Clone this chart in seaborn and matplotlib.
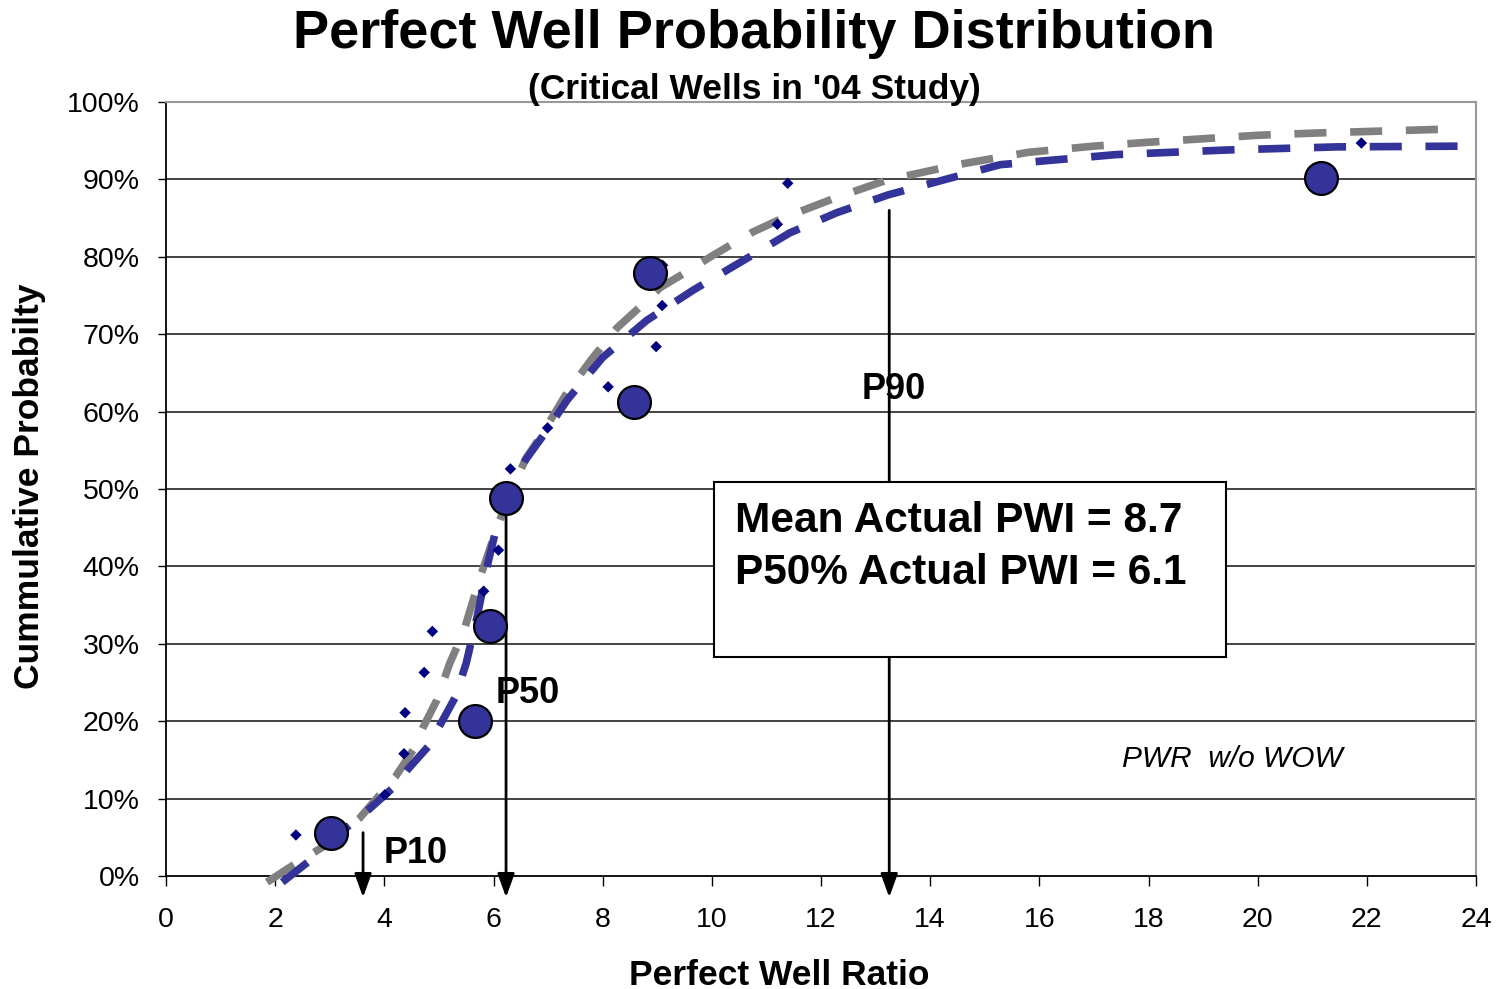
import matplotlib
matplotlib.use("Agg")
import matplotlib.pyplot as plt
import seaborn as sns
import pandas as pd
from matplotlib.patches import Rectangle

# ---------------- data ----------------
# Gray dashed fitted curve
gray_x = [1.85, 2.33, 3.0, 3.55, 3.88, 4.2, 4.53, 4.71, 4.96, 5.2, 5.45, 5.75, 6.03,
          6.3, 6.6, 6.9, 7.35, 7.8, 8.26, 8.68, 9.05, 9.5, 10.0, 10.75, 11.3, 12.26,
          13.2, 14.5, 15.8, 17.0, 18.0, 20.0, 21.1, 23.5]
gray_y = [-0.8, 1.4, 4.3, 7.5, 10.2, 12.8, 16.3, 19.2, 22.7, 27.5, 31.5, 38.5, 44.3,
          49.5, 54.0, 57.2, 62.5, 66.8, 70.8, 73.5, 76.0, 77.9, 80.1, 83.2, 85.0, 87.6,
          89.9, 91.9, 93.5, 94.3, 94.8, 95.7, 96.0, 96.5]

# Navy dashed fitted curve
navy_x = [2.13, 2.6, 3.0, 3.7, 4.16, 4.42, 4.8, 5.02, 5.3, 5.5, 5.7, 5.9, 6.03, 6.3,
          6.58, 6.94, 7.35, 8.0, 8.81, 9.66, 10.5, 11.43, 12.29, 13.23, 15.28, 17.4,
          19.44, 21.45, 23.8]
navy_y = [-0.8, 1.8, 4.5, 8.5, 11.4, 13.7, 16.7, 19.5, 23.1, 27.5, 33.5, 40.5, 44.3,
          49.5, 53.7, 57.2, 61.5, 67.0, 71.8, 75.7, 79.2, 83.1, 85.7, 88.0, 91.9, 93.2,
          93.8, 94.2, 94.3]

# Small navy diamond points
dot_x = [2.38, 4.01, 4.36, 4.38, 4.73, 4.88, 5.82, 6.09, 6.2, 6.31, 6.99, 8.1, 8.98,
         9.09, 9.1, 11.2, 11.39, 21.9]
dot_y = [5.3, 10.5, 15.8, 21.1, 26.3, 31.6, 36.8, 42.1, 47.4, 52.6, 57.9, 63.2, 68.4,
         73.7, 78.9, 84.2, 89.5, 94.7]

# Critical wells (large circles)
well_x = [3.02, 5.66, 5.94, 6.23, 8.57, 8.87, 21.16]
well_y = [5.6, 20.0, 32.3, 48.8, 61.2, 77.9, 90.2]

# Percentile markers
p_labels = ["P10", "P50", "P90"]
p_x = [3.61, 6.23, 13.25]
p_start = [5.6, 48.8, 86.0]

x_ticks = list(range(0, 25, 2))
y_ticks = list(range(0, 101, 10))
y_tick_labels = [f"{v}%" for v in y_ticks]

# ---------------- styling ----------------
sns.set_theme(style="white")
plt.rcParams["font.family"] = ["Liberation Sans", "DejaVu Sans"]
plt.rcParams["text.color"] = "black"
plt.rcParams["axes.labelcolor"] = "black"
plt.rcParams["xtick.color"] = "black"
plt.rcParams["ytick.color"] = "black"

NAVY = "#333399"
GRAY = "#808080"
DOT = "#000080"

fig = plt.figure(figsize=(14.99, 9.89), dpi=100)
ax = fig.add_axes([166 / 1499, 1 - 876 / 989, 1310 / 1499, 774 / 989])

ax.set_xlim(0, 24)
ax.set_ylim(0, 100)

# grid lines
for v in y_ticks[1:-1]:
    ax.axhline(v, color="#111111", lw=1.1, zorder=1)

dash = (0, (4.2, 3.1))
sns.lineplot(x=gray_x, y=gray_y, ax=ax, color=GRAY, linewidth=5.5, sort=False,
             estimator=None, zorder=3)
sns.lineplot(x=navy_x, y=navy_y, ax=ax, color=NAVY, linewidth=5.5, sort=False,
             estimator=None, zorder=3)
for ln in ax.get_lines()[-2:]:
    ln.set_linestyle(dash)
    ln.set_dash_capstyle("butt")
    ln.set_clip_on(False)

sns.scatterplot(x=dot_x, y=dot_y, ax=ax, marker="D", s=34, color=DOT,
                edgecolor="none", zorder=4)
sns.scatterplot(x=well_x, y=well_y, ax=ax, marker="o", s=560, color=NAVY,
                edgecolor="black", linewidth=1.6, zorder=6)

# percentile arrows
for lab, xv, y0 in zip(p_labels, p_x, p_start):
    ax.annotate("", xy=(xv, -2.75), xytext=(xv, y0),
                arrowprops=dict(arrowstyle="-|>,head_length=0.55,head_width=0.2",
                                color="black", lw=2.0, mutation_scale=26,
                                shrinkA=0, shrinkB=0),
                annotation_clip=False, zorder=5)

ax.text(3.98, 2.9, "P10", fontsize=26, fontweight="bold", va="center", ha="left", zorder=7)
ax.text(6.03, 23.6, "P50", fontsize=26, fontweight="bold", va="center", ha="left", zorder=7)
ax.text(12.75, 62.9, "P90", fontsize=26, fontweight="bold", va="center", ha="left", zorder=4)

# annotation box
ax.add_patch(Rectangle((10.04, 28.3), 9.38, 22.6, facecolor="white",
                       edgecolor="black", lw=1.5, zorder=8))
ax.text(10.42, 45.9, "Mean Actual PWI = 8.7", fontsize=30.5, fontweight="bold",
        va="center", ha="left", zorder=9)
ax.text(10.42, 39.1, "P50% Actual PWI = 6.1", fontsize=30.5, fontweight="bold",
        va="center", ha="left", zorder=9)

ax.text(17.52, 15.1, "PWR  w/o WOW", fontsize=21.5, fontstyle="italic",
        va="center", ha="left", zorder=7)

# axes, ticks
ax.set_xticks(x_ticks)
ax.set_xticklabels([str(t) for t in x_ticks], fontsize=20.5)
ax.set_yticks(y_ticks)
ax.set_yticklabels(y_tick_labels, fontsize=20.5)
ax.tick_params(axis="x", direction="out", length=7, width=1.0, color="black",
               bottom=True, pad=15)
ax.tick_params(axis="y", direction="out", length=6, width=1.0, color="black",
               left=True, pad=13)

for s in ["left", "bottom"]:
    ax.spines[s].set_color("black")
    ax.spines[s].set_linewidth(1.3)
for s in ["top", "right"]:
    ax.spines[s].set_color("#999999")
    ax.spines[s].set_linewidth(1.5)

ax.set_xlabel("Perfect Well Ratio", fontsize=25.5, fontweight="bold")
ax.xaxis.label.set_va("center")
ax.xaxis.set_label_coords(0.468, -0.128)
ax.set_ylabel("Cummulative Probabilty", fontsize=25.5, fontweight="bold")
ax.yaxis.label.set_va("center")
ax.yaxis.set_label_coords(-0.104, 0.503)

fig.text(754 / 1499, 1 - 34 / 989, "Perfect Well Probability Distribution",
         fontsize=39, fontweight="bold", ha="center", va="center")
fig.text(754 / 1499, 1 - 89 / 989, "(Critical Wells in '04 Study)",
         fontsize=25.5, fontweight="bold", ha="center", va="center")

fig.savefig("out.png", dpi=100, facecolor="white")
